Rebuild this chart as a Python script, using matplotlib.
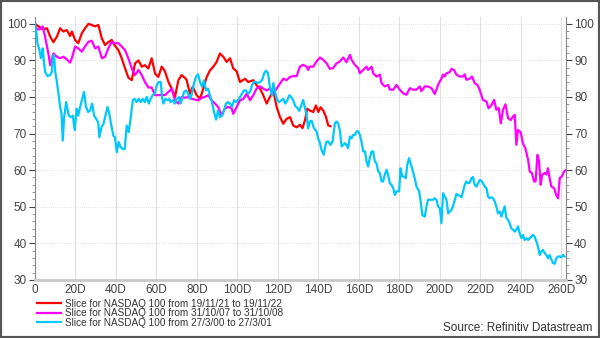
import matplotlib
matplotlib.use("Agg")
import matplotlib.pyplot as plt
from matplotlib.ticker import MultipleLocator, FuncFormatter
from matplotlib.patches import Rectangle

# (trading day, index rebased to 100)
red = [
    (0, 100), (4, 98.5), (6, 98.8), (7.6, 96.5), (9.2, 95), (10.9, 96.5), (12.5, 98.8),
    (14.1, 97.9), (15.8, 98.3), (17.4, 96.7), (18.3, 97.9), (19.9, 95.6), (21.5, 94.7),
    (23.2, 97.4), (24.8, 98.8), (26.5, 100), (28.1, 99.7), (29.8, 99.3), (31.4, 99.7),
    (33.1, 96), (34.7, 94.2), (36.3, 95), (38, 95.6), (39.6, 94), (41.3, 92.8), (42.9, 90.6),
    (44.6, 87.8), (46.2, 85.3), (47.9, 84.6), (49.5, 89.2), (51.2, 90), (52.8, 88.3),
    (54.4, 88.7), (56.1, 87.8), (57.7, 90.6), (59.4, 86.4), (61, 85.5), (62.7, 88.3),
    (64.3, 87), (66, 84.1), (67.6, 82.3), (69.2, 80), (70.9, 84.6), (72.5, 86), (74.2, 85.2),
    (75, 84.6), (76.6, 80.9), (78, 82.8), (79.9, 80.5), (81.6, 79.5), (83.2, 82.3),
    (84.9, 85.5), (86.5, 87.3), (88.2, 88.3), (89.8, 89.6), (91.4, 91.9), (93.1, 91),
    (94.7, 89.6), (96.4, 90.6), (98, 87.8), (99.7, 87), (101.3, 84.1), (103.8, 85),
    (105.4, 84.1), (107.9, 84.6), (109.5, 83.2), (111.2, 82.3), (112.8, 80.5), (114.5, 78.2),
    (116.1, 80), (117.8, 81.7), (119.4, 77.3), (121.1, 74.5), (122.7, 72.7), (124.3, 74),
    (126, 74.5), (127.6, 72.2), (129.3, 71.7), (130.9, 72.4), (132.2, 71.5), (133.4, 73.6),
    (134.5, 76.8), (135.8, 76.3), (137.5, 75.9), (138.8, 77.7), (140, 75.9), (141.1, 77.2),
    (142.4, 76.3), (143.7, 74.7), (144.9, 72.2), (146, 72),
]

magenta = [
    (0, 100), (1, 98.5), (2.6, 98.5), (3.9, 99.3), (5.1, 96.5), (6.7, 91.9), (7.6, 88.7),
    (9.2, 91.9), (10.9, 91), (12.5, 90.6), (14.1, 91), (15.8, 90.3), (17.4, 89.4),
    (18.3, 90.6), (19.9, 93.8), (21.5, 93.3), (23.2, 92.4), (24.8, 93.8), (26.5, 95.1),
    (28.1, 95.4), (29.8, 93.3), (31.4, 93.8), (33.1, 90.6), (34.7, 91), (36.3, 93.3),
    (38, 95.1), (39.6, 94.7), (41.3, 94.7), (42.9, 93.8), (44.6, 92.8), (46.2, 90.6),
    (47.9, 87.8), (49.5, 86), (51.2, 87.4), (52.8, 86), (54.4, 84.1), (56.1, 82.6),
    (57.7, 82.6), (59.4, 80.5), (61, 80.5), (62.7, 80.6), (64.3, 80.5), (66, 81.4),
    (67.6, 82.3), (69.2, 79.1), (70.9, 78.2), (72.5, 80), (74.2, 79.8), (75.8, 80),
    (77.5, 79.5), (79.1, 79.3), (80.8, 79.1), (82.4, 79.8), (84, 80), (85.7, 80.5),
    (87.3, 79.1), (89, 78.2), (90.6, 77.2), (92.3, 74.9), (93.9, 76.9), (95.6, 77.3),
    (97.2, 76.9), (98, 75.4), (99.7, 77.3), (101.3, 79.1), (103, 79.5), (104.6, 80.9),
    (106.3, 79.1), (107.9, 80.5), (109.5, 82.3), (111.2, 82.9), (112.8, 82.3), (114.5, 81.8),
    (116.1, 82.3), (117.8, 80.9), (119.4, 82.3), (121.1, 83.7), (122.7, 85), (124.3, 84.6),
    (126, 85.5), (127.6, 85.7), (129.3, 85.7), (130.9, 88.3), (132.5, 88.8), (134.2, 88.3),
    (135, 87.4), (135.8, 88.3), (137.5, 88.3), (139.1, 89.7), (140.8, 90.8), (142.4, 90.2),
    (144.1, 89.2), (145.7, 87.7), (147.3, 87.9), (149, 89.2), (150.6, 89.7), (152.3, 90.8),
    (153.9, 89.5), (155.6, 91.5), (156.4, 90.2), (158, 88.8), (159.7, 87.9), (160.5, 86.5),
    (162.2, 87.4), (163.8, 88.3), (164.6, 87.4), (166.3, 88.3), (167.1, 86.5), (168.7, 85.6),
    (170.4, 86.1), (171.2, 83.8), (172.8, 82.9), (174.5, 83.3), (175.3, 82), (177, 82),
    (178.6, 83.3), (180.2, 82), (181.9, 81), (183.5, 80.6), (185.2, 82.4), (186.8, 82),
    (188.5, 82), (190.1, 82.9), (190.9, 81.6), (192.6, 82.9), (194.2, 82.9), (195.9, 82.4),
    (197.5, 80.8), (199.5, 83.8), (200.5, 84.7), (201.6, 86.1), (202.4, 85.6), (203.3, 86.5),
    (204.9, 86.8), (205.7, 87.7), (207, 87.4), (208.2, 86.1), (209.8, 85.6), (211.5, 85.6),
    (212.3, 86.2), (213.1, 84.7), (214.8, 85), (215.9, 85.6), (217.2, 83.8), (218.6, 83.3),
    (219.7, 81.9), (221.3, 79.2), (223, 78.8), (224.1, 76.9), (225.5, 77.8), (226.8, 79.2),
    (227.9, 76.5), (229.1, 77), (230.1, 72.8), (231.2, 76.5), (232.4, 78), (233.7, 74.2),
    (235, 73.7), (236.2, 74.7), (237, 75.1), (237.8, 66.9), (238.6, 71), (239.9, 70.4),
    (241.1, 67.2), (242.2, 66), (243.6, 62.8), (244.4, 59.6), (245.5, 59.2), (246.5, 56.9),
    (247.3, 56.9), (248.2, 64.2), (249, 62.4), (249.8, 56), (250.5, 58.7), (251.8, 59.2),
    (252.6, 58.8), (253.4, 60.5), (254.2, 57.8), (255.1, 55.5), (256.4, 55.1), (257.5, 53.2),
    (258.4, 52.3), (259.2, 57.8), (260.3, 58.3), (261.3, 59.6), (262.5, 60.1),
]

cyan = [
    (0, 100), (0.7, 97.9), (1.3, 94.7), (2.3, 92.8), (3, 90.6), (3.5, 91.5), (3.9, 93.3),
    (4.6, 89.2), (5.1, 86.9), (6.3, 85.7), (7.6, 86), (8.4, 86.9), (8.9, 90.6), (9.5, 91.5),
    (10, 87.3), (10.9, 84.1), (11.7, 80.9), (12.5, 77.3), (13.2, 75.4), (13.8, 68.1),
    (14.5, 74.5), (15.5, 78.6), (16.1, 76.8), (16.8, 74.9), (17.8, 74.5), (18.8, 74.9),
    (19.7, 70.9), (20.7, 76.8), (21.4, 74.9), (22.4, 77.3), (23.4, 79.5), (24.3, 81.4),
    (25.3, 77.3), (26.3, 75.9), (27.3, 76.3), (28.3, 78.2), (29.3, 74.9), (30.3, 74),
    (31.3, 73.1), (31.9, 69), (32.9, 71.7), (33.9, 72.6), (34.9, 74.9), (35.9, 77.3),
    (36.8, 75.4), (37.8, 72.2), (38.8, 69.4), (39.6, 69), (40.5, 64.9), (41.4, 67.7),
    (42.4, 66.3), (43.4, 65.8), (44.4, 65.8), (45.4, 72.2), (46.4, 70.4), (47.4, 74.5),
    (48.4, 79.1), (49.3, 79.5), (50.3, 78.6), (51.3, 79.5), (52.3, 78.6), (53.3, 79.5),
    (54.3, 78.6), (55.3, 80), (56.3, 78.2), (57.2, 79.5), (58.2, 80.5), (59.2, 80.9),
    (60.2, 83.2), (61.2, 84.1), (62.2, 84.1), (62.8, 80), (63.5, 78.2), (64.5, 79.5),
    (65.5, 79.1), (66.4, 79.5), (67.1, 78.6), (68.1, 79.1), (69.1, 78.2), (70.1, 79.5),
    (71.1, 80), (72, 78.2), (72.7, 79.5), (73.7, 81.4), (74.7, 81.8), (75.7, 80.9),
    (76.6, 79.5), (77.6, 80.9), (78.6, 83.7), (79.6, 85.5), (80.6, 86.2), (81.6, 84.1),
    (82.6, 82.8), (83.6, 84.6), (84.5, 81.8), (85.5, 82.3), (86.5, 80.5), (87.5, 78.6),
    (88.5, 75.9), (89.5, 73.8), (90.5, 76.3), (91.4, 74.5), (92.4, 74.9), (93.4, 76.3),
    (94.4, 78.2), (95.4, 78.6), (96.4, 78.2), (97.4, 77.3), (98.4, 79.1), (99.3, 78.6),
    (100.3, 79.1), (101.3, 80), (102.3, 80.9), (103.3, 81.8), (104.3, 81.8), (105.3, 80.9),
    (106.3, 81.4), (107.2, 83.2), (108.2, 84.1), (109.2, 84.1), (110.2, 83.8), (111.2, 84.1),
    (112.2, 84.6), (113.2, 86.4), (114.1, 87.2), (115.1, 86.6), (116.1, 82.8), (117.1, 80.5),
    (117.8, 83.8), (118.8, 80.9), (119.7, 79.1), (120.7, 78.6), (121.7, 79.1), (122.7, 79.5),
    (123.7, 78.2), (124.7, 79.1), (125.7, 80.5), (126.6, 80), (127.6, 79.1), (128.6, 77.5),
    (129.6, 77.1), (130.6, 76.2), (132.5, 79.2), (134.2, 75.1), (135, 71.4), (135.8, 73.3),
    (136.7, 73.5), (137.8, 71.5), (139.1, 70.6), (139.9, 68.7), (140.8, 67.4), (141.6, 65.5),
    (142.7, 64.2), (143.4, 66.5), (144.1, 67.8), (144.9, 67.8), (146, 66.9), (147, 67.8),
    (148.2, 72.8), (149, 73.3), (149.8, 72.8), (150.6, 71), (151.5, 66.5), (152.3, 66.9),
    (153.1, 67.4), (153.9, 66.9), (154.7, 66), (155.6, 69.2), (156.4, 68.7), (157.2, 69.6),
    (158, 69.6), (158.9, 70.6), (159.7, 70.6), (160.5, 69.6), (161.3, 67.8), (162.2, 65.1),
    (163.1, 65.1), (163.8, 62.4), (164.6, 61), (165.4, 63.3), (166.3, 65.1), (167.1, 65.1),
    (167.9, 62.4), (168.7, 61.9), (169.6, 59.6), (170.4, 59.2), (171.2, 56.9), (172, 56.9),
    (172.8, 58.7), (173.7, 60.1), (174.5, 58.7), (175.3, 56.4), (176.1, 56), (177, 55.1),
    (177.8, 53.2), (178.6, 54.2), (179.9, 54.2), (180.6, 60.5), (181.4, 58.3), (182.2, 58.3),
    (183.2, 57.8), (183.9, 61.4), (184.8, 63.3), (185.5, 61.9), (186.5, 60.1), (187.6, 57.8),
    (188.5, 55.5), (189.8, 54.2), (190.4, 51.9), (191.4, 47.7), (192.6, 47.3), (193.4, 50.1),
    (194.2, 51.9), (195.4, 51.9), (196.7, 51.9), (197.5, 52.3), (198.3, 51.9), (199.1, 50.1),
    (200, 49.6), (200.8, 45.5), (201.6, 53.7), (202.4, 52.8), (203.3, 51.9), (204.1, 48.2),
    (204.9, 48.7), (205.7, 49.1), (206.5, 50.1), (207.4, 51.9), (208.2, 53.5), (209, 53.2),
    (209.8, 53), (210.7, 52.6), (211.5, 54.2), (212.3, 56), (213.1, 56.9), (213.9, 56.4),
    (214.8, 56.6), (215.6, 57.8), (216.4, 58.1), (217.2, 56), (218.1, 55.5), (218.9, 56.4),
    (219.7, 57.3), (220.5, 57.1), (221.3, 56.4), (222.2, 55.5), (223, 55.1), (223.8, 52.8),
    (224.6, 52.3), (225.5, 52.6), (226.3, 52.3), (227.1, 51.4), (227.9, 50.1), (228.7, 48.2),
    (229.6, 48.7), (230.4, 47.3), (231.2, 48.7), (232, 50.1), (232.9, 46.9), (233.7, 46.4),
    (234.5, 45.5), (235.3, 44.1), (236.2, 43.7), (237, 43.2), (237.8, 43.7), (238.6, 44.6),
    (239.4, 42.8), (240.3, 41.4), (241.1, 42.3), (241.9, 40.9), (242.7, 41.4), (243.6, 40.9),
    (244.4, 41.4), (245.2, 41.8), (246, 42.3), (246.8, 41.8), (247.7, 40.5), (248.5, 39.1),
    (249.3, 36.8), (250.1, 37.7), (250.9, 38.2), (251.8, 37.3), (252.6, 36.8), (253.4, 35.9),
    (254.2, 36.8), (255.1, 35.5), (255.9, 34.6), (256.7, 34.4), (257.5, 35.9), (258.4, 36.4),
    (259.2, 36.4), (260, 36.2), (260.8, 36.8), (261.6, 36.4),
]

labels = [
    "Slice for NASDAQ 100 from 19/11/21 to 19/11/22",
    "Slice for NASDAQ 100 from 31/10/07 to 31/10/08",
    "Slice for NASDAQ 100 from 27/3/00 to 27/3/01",
]
colors = ["#ff0000", "#ff00ff", "#00c8ff"]
source = "Source: Refinitiv Datastream"

plt.rcParams['font.family'] = ['Liberation Sans', 'DejaVu Sans']

fig = plt.figure(figsize=(6, 3.38), dpi=100)
ax = fig.add_axes([0.058, 0.172, 0.885, 0.778])

for series, col, lab in zip([red, magenta, cyan], colors, labels):
    xs, ys = zip(*series)
    ax.plot(xs, ys, color=col, lw=1.6, label=lab, zorder=3)

ax.set_xlim(0, 262.2)
ax.set_ylim(30, 101.9)

ax.xaxis.set_major_locator(MultipleLocator(20))
ax.xaxis.set_major_formatter(FuncFormatter(lambda v, p: "0" if v == 0 else f"{int(v)}D"))
ax.yaxis.set_major_locator(MultipleLocator(10))
ax.yaxis.set_minor_locator(MultipleLocator(2))

ax.grid(axis="x", color="#e0e0e0", lw=0.8, ls="-")
ax.grid(axis="y", color="#d8d8d8", lw=0.6, ls=":")
ax.set_axisbelow(True)

ax.spines["top"].set_visible(False)
ax.spines["bottom"].set_color("#c8c8c8")
ax.spines["bottom"].set_linewidth(2)
ax.spines["left"].set_color("#888888")
ax.spines["right"].set_color("#888888")

ax.tick_params(axis="x", length=0, labelsize=8.5, colors="#444444", pad=3)
ax.tick_params(axis="y", which="major", length=4, labelsize=8.5, colors="#444444",
               left=True, right=True, labelleft=True, labelright=True, direction="out", pad=2)
ax.tick_params(axis="y", which="minor", length=2, color="#888888", left=True, right=True)

ax.legend(loc="upper left", bbox_to_anchor=(-0.005, -0.052), frameon=False, fontsize=7.2,
          handlelength=2.4, handletextpad=0.35, labelspacing=-0.05, borderpad=0,
          labelcolor="#333333")

fig.text(0.987, 0.012, source, ha="right", va="bottom", fontsize=8.5, color="#333333")

fig.patches.append(Rectangle((0, 0), 1, 1, transform=fig.transFigure, fill=False,
                             edgecolor="#555555", lw=3, zorder=10))

fig.savefig("out.png", dpi=100)
